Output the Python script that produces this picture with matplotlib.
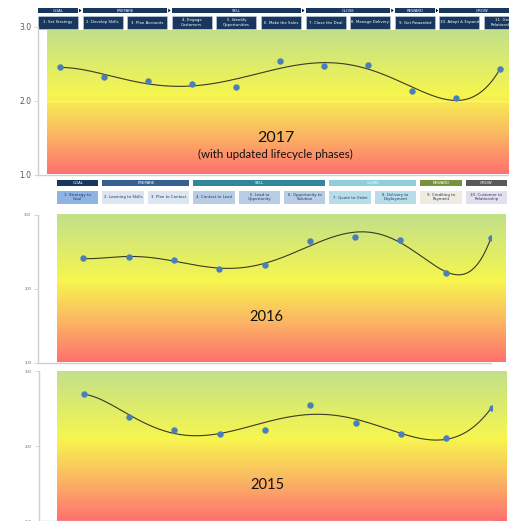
import numpy as np
import matplotlib
matplotlib.use("Agg")
import matplotlib.pyplot as plt
from matplotlib.patches import Rectangle, Polygon
from matplotlib.colors import to_rgb

# ---- data ----
phases = ["GOAL", "PREPARE", "SELL", "CLOSE", "REWARD", "GROW"]

steps_2017 = ["1. Set Strategy", "2. Develop Skills", "3. Plan Accounts", "4. Engage\nCustomers",
              "5. Identify\nOpportunities", "6. Make the Sales", "7. Close the Deal",
              "8. Manage Delivery", "9. Get Rewarded", "10. Adopt & Expand", "11. Grow\nRelationships"]
phase_span_2017 = [1, 2, 3, 2, 1, 2]          # number of steps per phase
scores_2017 = [2.46, 2.33, 2.27, 2.23, 2.19, 2.54, 2.47, 2.48, 2.13, 2.04, 2.43]

steps_2016 = ["1. Strategy to\nGoal", "2. Learning to Skills", "3. Plan to Contact",
              "4. Contact to Lead", "5. Lead to\nOpportunity", "6. Opportunity to\nSolution",
              "7. Quote to Order", "8. Delivery to\nDeployment", "9. Crediting to\nPayment",
              "10. Customer to\nRelationship"]
phase_span_2016 = [1, 2, 3, 2, 1, 1]
scores_2016 = [2.41, 2.43, 2.39, 2.27, 2.32, 2.64, 2.70, 2.66, 2.22, 2.69]
scores_2015 = [2.70, 2.39, 2.22, 2.17, 2.22, 2.55, 2.31, 2.16, 2.11, 2.51]

yticks = [1.0, 2.0, 3.0]

# ---- styling ----
W, H = 509, 521
NAVY = "#17375e"
phase_colors_2016 = ["#17375e", "#366092", "#31869b", "#92cddc", "#76933c", "#595959"]
step_colors_2016 = ["#8db4e2", "#dce6f1", "#dce6f1", "#b8cce4", "#b8cce4", "#b8cce4",
                    "#b7dee8", "#b7dee8", "#eeece1", "#e4dfec"]
AXIS_GRAY = "#d0d0d0"
TICK_TEXT = "#595959"
POINT_BLUE = "#4a7ebb"
TREND = "#3a3a22"

fig = plt.figure(figsize=(W / 100, H / 100), dpi=100)
fig.patch.set_facecolor("white")

# pixel-space canvas for backgrounds and headers
bg = fig.add_axes([0, 0, 1, 1])
bg.set_xlim(0, W)
bg.set_ylim(H, 0)
bg.axis("off")


def gradient(x0, x1, y0, y1):
    stops = [(0.0, to_rgb("#c2e08b")), (0.45, to_rgb("#f6f64e")),
             (0.72, to_rgb("#fbb862")), (1.0, to_rgb("#ff7070"))]
    t = np.linspace(0, 1, 256)
    pos = [s[0] for s in stops]
    img = np.zeros((256, 1, 3))
    for c in range(3):
        img[:, 0, c] = np.interp(t, pos, [s[1][c] for s in stops])
    bg.imshow(img, extent=[x0, x1, y1, y0], aspect="auto", interpolation="bilinear", zorder=0)


gradient(47, 509, 30, 174)
gradient(57, 506, 214, 362)
gradient(57, 507, 371, 521)


def header(steps, spans, x_left, pitch, box_w, bar_y, bar_h, box_y, box_h,
           bar_colors, box_colors, box_text, arrows, fs):
    idx = 0
    for p, (name, n) in enumerate(zip(phases, spans)):
        xa = x_left + idx * pitch
        xb = x_left + (idx + n - 1) * pitch + box_w
        bg.add_patch(Rectangle((xa, bar_y), xb - xa, bar_h, facecolor=bar_colors[p],
                               edgecolor="none", zorder=2))
        bg.text((xa + xb) / 2, bar_y + bar_h / 2, name, color="white", fontsize=fs,
                ha="center", va="center", zorder=3, clip_on=True)
        if arrows and p > 0:
            bg.add_patch(Polygon([[xa - 3.5, bar_y + 0.6], [xa - 3.5, bar_y + bar_h - 0.6],
                                  [xa - 1.2, bar_y + bar_h / 2]], closed=True,
                                 facecolor="black", edgecolor="none", zorder=3))
        idx += n
    for i, s in enumerate(steps):
        x = x_left + i * pitch
        bg.add_patch(Rectangle((x, box_y), box_w, box_h, facecolor=box_colors[i],
                               edgecolor="#c8d2de" if arrows else "none", lw=0.4, zorder=2))
        bg.text(x + box_w / 2, box_y + box_h / 2, s, color=box_text, fontsize=fs,
                ha="center", va="center", linespacing=1.1, zorder=3, clip_on=True)


header(steps_2017, phase_span_2017, 38, 44.6, 40, 8, 5, 16, 13,
       [NAVY] * 6, [NAVY] * 11, "white", True, 2.8)
header(steps_2016, phase_span_2016, 57, 45.4, 41.5, 180, 5.5, 191, 12.5,
       phase_colors_2016, step_colors_2016, "#1f3864", False, 2.8)


def chart(values, left, right, top, bottom, xlim, tick_fs, label, sublabel=None,
          label_y=0.26, label_fs=11, grid=False):
    ax = fig.add_axes([left / W, 1 - bottom / H, (right - left) / W, (bottom - top) / H])
    ax.patch.set_alpha(0)
    ax.set_xlim(*xlim)
    ax.set_ylim(1, 3)
    for side in ("top", "right"):
        ax.spines[side].set_visible(False)
    for side in ("left", "bottom"):
        ax.spines[side].set_color(AXIS_GRAY)
        ax.spines[side].set_linewidth(1.0)
    ax.set_xticks([])
    ax.set_yticks(yticks)
    ax.set_yticklabels([f"{v:.1f}" for v in yticks])
    ax.tick_params(axis="y", length=3, width=0.6, color=AXIS_GRAY, labelsize=tick_fs,
                   labelcolor=TICK_TEXT, pad=2)
    if grid:
        ax.axhline(2.0, color="white", lw=0.8, alpha=0.4, zorder=1)

    x = np.arange(1, len(values) + 1)
    coef = np.polyfit(x, values, 6)
    xs = np.linspace(1, len(values), 300)
    ax.plot(xs, np.polyval(coef, xs), color=TREND, lw=0.8, zorder=2)
    ax.plot(x, values, "o", color=POINT_BLUE, ms=3.6, mec=POINT_BLUE, zorder=3)

    ax.text(0.5 * (xlim[0] + xlim[1]) + 0.05, 1 + 2 * label_y, label, fontsize=label_fs,
            ha="center", va="center", color="#111111", family="Lato")
    if sublabel:
        ax.text(0.5 * (xlim[0] + xlim[1]) + 0.05, 1 + 2 * (label_y - 0.11), sublabel,
                fontsize=8.3, ha="center", va="center", color="#111111", family="Lato")
    return ax


chart(scores_2017, 38, 509, 27, 175, (0.5, 11.2), 5.5, "2017",
      "(with updated lifecycle phases)", label_y=0.25, label_fs=11.5, grid=True)
chart(scores_2016, 38, 491, 214.7, 363, (0, 10), 3.2, "2016", label_y=0.31, label_fs=10.5)
chart(scores_2015, 38.5, 491.5, 371.3, 521.3, (0, 10), 3.2, "2015", label_y=0.24, label_fs=10.5)

fig.savefig("out.png", dpi=100)
